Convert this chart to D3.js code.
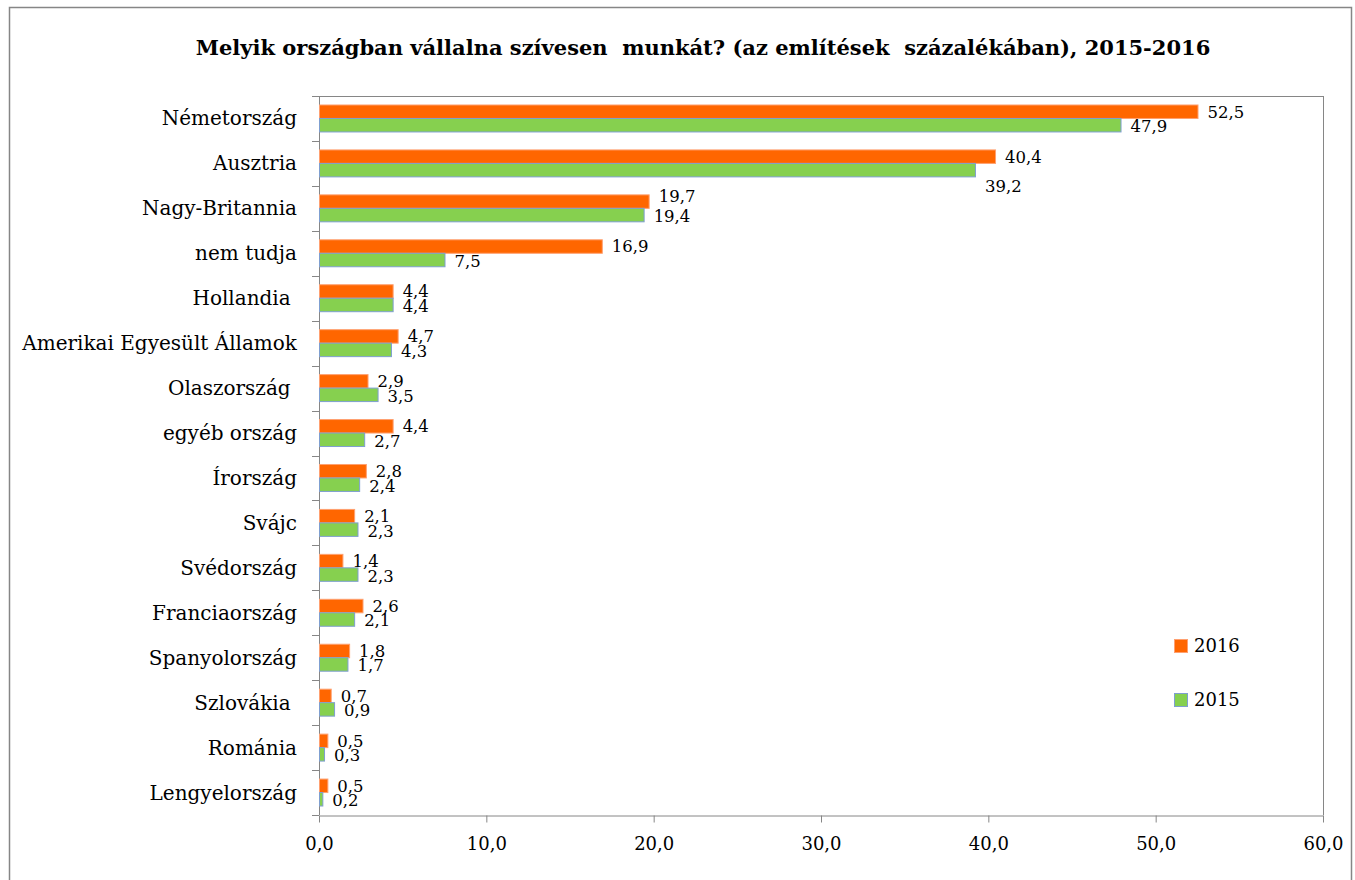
<!DOCTYPE html>
<html><head><meta charset="utf-8">
<script src="https://cdn.jsdelivr.net/npm/d3@7"></script>
<style>
html,body{margin:0;padding:0;background:#fff;}
text{font-family:"DejaVu Serif",serif;fill:#000;white-space:pre;}
</style></head>
<body>
<svg id="chart" width="1355" height="880"></svg>
<script>
const categories = ["Németország","Ausztria","Nagy-Britannia","nem tudja","Hollandia ","Amerikai Egyesült Államok","Olaszország ","egyéb ország","Írország","Svájc","Svédország","Franciaország","Spanyolország","Szlovákia ","Románia","Lengyelország"];
const values2016 = [52.5,40.4,19.7,16.9,4.4,4.7,2.9,4.4,2.8,2.1,1.4,2.6,1.8,0.7,0.5,0.5];
const values2015 = [47.9,39.2,19.4,7.5,4.4,4.3,3.5,2.7,2.4,2.3,2.3,2.1,1.7,0.9,0.3,0.2];
const xTicks = [0,10,20,30,40,50,60];
const seriesNames = ["2016","2015"];
const title = "Melyik országban vállalna szívesen  munkát? (az említések  százalékában), 2015-2016";

const svg = d3.select("#chart");
const m = {left:319, right:1323, top:96, bottom:815};
const fmt = v => v.toFixed(1).replace(".", ",");
const gray = "#868686";

// outer frame
svg.append("rect").attr("x",9.5).attr("y",7.5).attr("width",1342).attr("height",880)
  .attr("fill","none").attr("stroke",gray).attr("stroke-width",1.5);

svg.append("text").attr("x",703).attr("y",55).attr("text-anchor","middle")
  .attr("font-size",21).attr("font-weight","bold").text(title);

const x = d3.scaleLinear().domain([0,60]).range([m.left,m.right]);
const y = d3.scaleBand().domain(categories).range([m.top,m.bottom]).paddingInner(0.4).paddingOuter(0.2);
const band = d3.scaleBand().domain(categories).range([m.top,m.bottom]);

// plot frame top/right
svg.append("line").attr("x1",m.left).attr("x2",m.right).attr("y1",m.top+0.5).attr("y2",m.top+0.5).attr("stroke",gray);
svg.append("line").attr("x1",m.right+0.5).attr("x2",m.right+0.5).attr("y1",m.top).attr("y2",m.bottom).attr("stroke",gray);

// x axis
const xAxis = svg.append("g").attr("transform",`translate(0,${m.bottom+0.5})`)
  .call(d3.axisBottom(x).tickValues(xTicks).tickFormat(fmt).tickSizeInner(7).tickSizeOuter(0).tickPadding(15));
xAxis.selectAll("line,path").attr("stroke",gray);
xAxis.selectAll("text").attr("font-size",18).attr("font-family","DejaVu Serif");

// y axis (band boundaries as ticks)
const yAxisG = svg.append("g");
yAxisG.append("line").attr("x1",m.left+0.5).attr("x2",m.left+0.5).attr("y1",m.top).attr("y2",m.bottom).attr("stroke",gray);
const bounds = categories.map(c => band(c)).concat([m.bottom]);
yAxisG.selectAll("line.tk").data(bounds).join("line").attr("class","tk")
  .attr("x1",m.left-7).attr("x2",m.left).attr("y1",d=>Math.round(d)+0.5).attr("y2",d=>Math.round(d)+0.5).attr("stroke",gray);
yAxisG.selectAll("text.cat").data(categories).join("text").attr("class","cat")
  .attr("x",m.left-22).attr("y",c=>band(c)+band.bandwidth()/2).attr("dy","0.35em")
  .attr("text-anchor","end").attr("font-size",20).text(c=>c);

// bars
const inner = d3.scaleBand().domain(seriesNames).range([0,y.bandwidth()]);
const colors = {"2016":"#FF6600","2015":"#86D04F"};
const strokes = {"2016":"#FFA070","2015":"#7F9FD0"};
const data = categories.flatMap((c,i)=>[
  {c, s:"2016", v:values2016[i]},
  {c, s:"2015", v:values2015[i]}
]);
svg.append("g").selectAll("rect").data(data).join("rect")
  .attr("x",m.left+0.5).attr("y",d=>y(d.c)+inner(d.s))
  .attr("width",d=>x(d.v)-x(0)).attr("height",inner.bandwidth())
  .attr("fill",d=>colors[d.s]).attr("stroke",d=>strokes[d.s]).attr("stroke-width",1);

// labels
svg.append("g").selectAll("text").data(data).join("text")
  .attr("x",d=>x(d.v) + 10)
  .attr("y",d=>{
    let cy = y(d.c)+inner(d.s)+inner.bandwidth()/2;
    if (d.s==="2015") cy += 1;
    if (d.c==="Nagy-Britannia" && d.s==="2016") cy -= 6;
    if (d.c==="Ausztria" && d.s==="2015") cy += 15;
    return cy;
  })
  .attr("dy","0.36em").attr("font-size",16.5).text(d=>fmt(d.v));

// legend
const lg = svg.append("g");
seriesNames.forEach((s,i)=>{
  const ly = 646 + i*54;
  lg.append("rect").attr("x",1174.5).attr("y",ly-6.5).attr("width",13).attr("height",13)
    .attr("fill",colors[s]).attr("stroke",strokes[s]);
  lg.append("text").attr("x",1194).attr("y",ly).attr("dy","0.35em").attr("font-size",18).text(s);
});
</script>
</body></html>
